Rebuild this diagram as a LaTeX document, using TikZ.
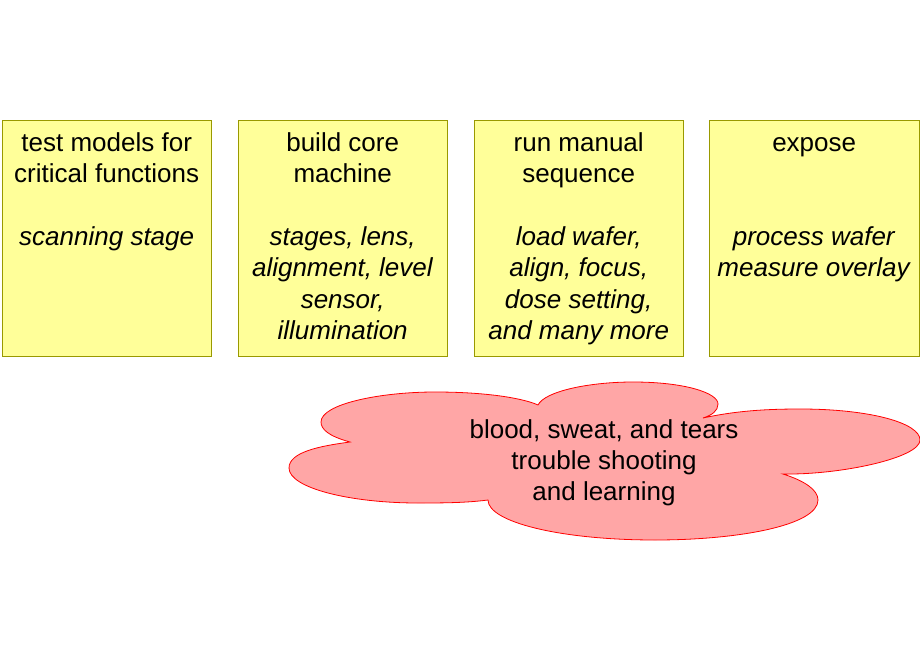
\documentclass[tikz,border=0pt]{standalone}
\usepackage{fontspec}
\setmainfont{Liberation Sans}
\begin{document}
\begin{tikzpicture}[x=1pt,y=-1pt,
  stepbox/.style={draw={rgb,255:red,153;green,153;blue,0}, line width=0.9pt,
    fill={rgb,255:red,255;green,255;blue,153}, minimum width=209.5pt, minimum height=235.5pt,
    inner sep=0pt, anchor=north west},
  boxtext/.style={anchor=north, align=center, inner sep=0pt,
    font=\fontsize{26}{31.3}\selectfont},
  cloudline/.style={draw={rgb,255:red,255;green,0;blue,0}, line width=0.8pt,
    fill={rgb,255:red,255;green,166;blue,166}}]
\useasboundingbox (0,0) rectangle (920,660);
\fill[white] (0,0) rectangle (920,660);

\node[stepbox] (b1) at (1.5,120.5) {};
\node[stepbox] (b2) at (237.5,120.5) {};
\node[stepbox] (b3) at (473.5,120.5) {};
\node[stepbox] (b4) at (709,120.5) {};

\node[boxtext] (t1) at ([yshift=-9pt]b1.north) {\strut test models for\\critical functions\\[31.3pt]\textit{scanning stage}};
\node[boxtext] (t2) at ([yshift=-9pt]b2.north) {\strut build core\\machine\\[31.3pt]\textit{stages, lens,}\\\textit{alignment, level}\\\textit{sensor,}\\\textit{illumination}};
\node[boxtext] (t3) at ([yshift=-9pt]b3.north) {\strut run manual\\sequence\\[31.3pt]\textit{load wafer,}\\\textit{align, focus,}\\\textit{dose setting,}\\\textit{and many more}};
\node[boxtext] (t4) at ([yshift=-9pt]b4.north) {\strut expose\\[62.6pt]\textit{process wafer}\\\textit{measure overlay}};

\path[cloudline] (350,442)
  .. controls (328,436) and (321,429) .. (321,422)
  .. controls (321,404) and (380,392) .. (435,392)
  .. controls (490,392) and (525,399) .. (538,405)
  .. controls (545,391) and (590,382) .. (633,382)
  .. controls (685,382) and (718,393) .. (718,404)
  .. controls (718,411) and (712,415) .. (703,418)
  .. controls (735,411) and (765,409) .. (800,409)
  .. controls (870,409) and (920,423) .. (920,440)
  .. controls (920,458) and (840,475) .. (783,474)
  .. controls (805,481) and (818,490) .. (818,500)
  .. controls (818,525) and (740,540) .. (655,540)
  .. controls (560,540) and (488,522) .. (488,500)
  .. controls (465,503) and (440,503) .. (418,503)
  .. controls (350,503) and (289,488) .. (289,468)
  .. controls (289,452) and (320,446) .. (350,442) -- cycle;

\node[boxtext] (ct) at (604,416) {\strut blood, sweat, and tears\\trouble shooting\\and learning};
\end{tikzpicture}
\end{document}
